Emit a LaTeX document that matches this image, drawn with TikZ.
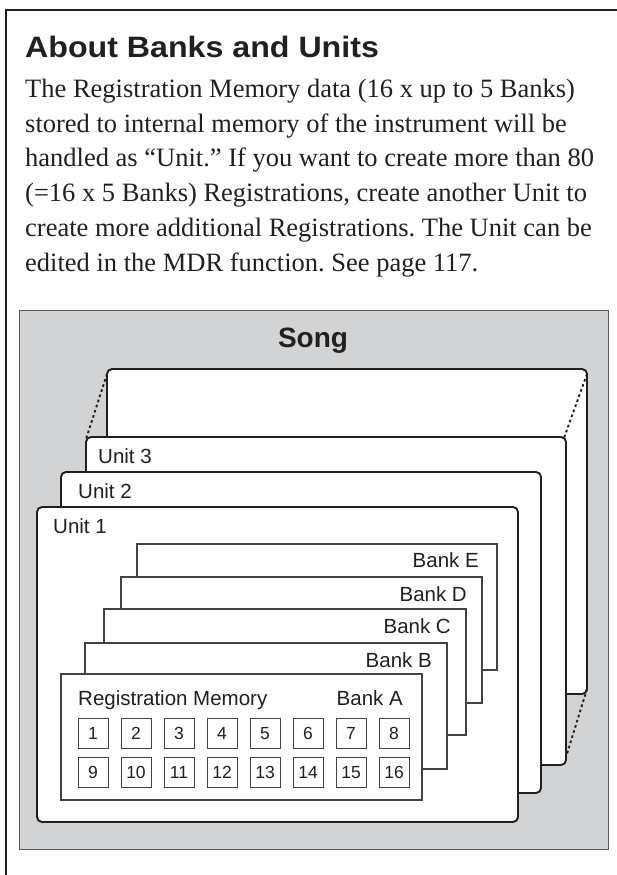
\documentclass[tikz,border=0pt]{standalone}
\usepackage{fontspec}
\setmainfont{Liberation Serif}
\setsansfont{Liberation Sans}
\newfontfamily\titlefont[FakeStretch=1.09]{Liberation Sans Bold}
\definecolor{panelgray}{RGB}{209,211,212}
\definecolor{ink}{RGB}{35,31,32}
\frenchspacing
\begin{document}
\begin{tikzpicture}[x=1pt,y=-1pt,
 unitbox/.style={draw=ink, line width=1.9pt, fill=white, rounded corners=5pt, inner sep=0, outer sep=0, anchor=north west},
 bankbox/.style={draw=ink!85, line width=1.1pt, fill=white, inner sep=0, outer sep=0, anchor=north west, minimum height=126},
 regbox/.style={draw=ink!85, line width=0.9pt, fill=white, minimum width=30, minimum height=30, inner sep=0, outer sep=0, anchor=north west, text height=12.5pt, text depth=0pt, font=\fontsize{17.5}{17.5}\sffamily, text=ink},
 lbl/.style={inner sep=0, font=\fontsize{20.5}{20.5}\sffamily, text=ink},
 bodyline/.style={inner sep=0, anchor=base west, font=\fontsize{26.5}{30}\rmfamily, text=ink},
 dots/.style={draw=ink, line width=1.9pt, dash pattern=on 2.6pt off 2.8pt}]
\useasboundingbox (0,0) rectangle (617,875);
% outer frame
\coordinate (fbl) at (6,875);
\coordinate (ftl) at (6,10);
\coordinate (ftr) at (617,10);
\draw[ink, line width=2pt] (fbl) -- (ftl) -- (ftr);
% heading and text
\node[anchor=base west, inner sep=0, font=\fontsize{29.5}{30}\titlefont, text=ink] (title) at (25,57) {About Banks and Units};
\node[bodyline] (t1) at (25,97.5) {The Registration Memory data (16 x up to 5 Banks)};
\node[bodyline] (t2) at (25,132.2) {stored to internal memory of the instrument will be};
\node[bodyline] (t3) at (25,166.9) {handled as “Unit.” If you want to create more than 80};
\node[bodyline] (t4) at (25,201.6) {(=16 x 5 Banks) Registrations, create another Unit to};
\node[bodyline] (t5) at (25,236.3) {create more additional Registrations. The Unit can be};
\node[bodyline] (t6) at (25,271) {edited in the MDR function. See page 117.};
% panel
\node[fill=panelgray, draw=ink!75, line width=0.8pt, minimum width=589, minimum height=539, anchor=north west, inner sep=0, outer sep=0] (panel) at (19,310) {};
\node[anchor=base, inner sep=0, font=\fontsize{28}{28}\bfseries\sffamily, text=ink] (song) at (313,347) {Song};
% units
\node[unitbox, minimum width=480, minimum height=325] (back) at (107,369) {};
\node[unitbox, minimum width=480, minimum height=328] (unit3) at (86,437) {};
\node[unitbox, minimum width=480, minimum height=321] (unit2) at (61,472) {};
\node[unitbox, minimum width=481, minimum height=315] (unit1) at (37,507) {};
\draw[dots] ([yshift=-5]back.north west) -- ([yshift=-2]unit3.north west);
\draw[dots] ([yshift=-5]back.north east) -- ([xshift=-2,yshift=-1]unit3.north east);
\draw[dots] ([yshift=5]back.south east) -- ([yshift=8]unit3.south east);
\node[lbl, anchor=base west] (u3) at (98,463) {Unit 3};
\node[lbl, anchor=base west] (u2) at (78,498) {Unit 2};
\node[lbl, anchor=base west] (u1) at (53,533) {Unit 1};
% banks
\node[bankbox, minimum width=360] (bankE) at (137,544) {};
\node[lbl, anchor=base east] (lE) at ([xshift=-18,yshift=-23]bankE.north east) {Bank E};
\node[bankbox, minimum width=361] (bankD) at (121,577) {};
\node[lbl, anchor=base east] (lD) at ([xshift=-15,yshift=-24]bankD.north east) {Bank D};
\node[bankbox, minimum width=362] (bankC) at (104,609) {};
\node[lbl, anchor=base east] (lC) at ([xshift=-15,yshift=-24]bankC.north east) {Bank C};
\node[bankbox, minimum width=362] (bankB) at (85,643) {};
\node[lbl, anchor=base east] (lB) at ([xshift=-15,yshift=-24]bankB.north east) {Bank B};
\node[bankbox, minimum width=361] (bankA) at (61,674) {};
\node[lbl, anchor=base east] (lA) at ([xshift=-19,yshift=-31]bankA.north east) {Bank A};
\node[lbl, anchor=base west] (rm) at (78,705) {Registration Memory};
% registration boxes
\foreach \i in {1,...,8} {
  \pgfmathtruncatemacro{\j}{\i+8}
  \node[regbox] (r\i) at ({78+43*(\i-1)},718) {\i};
  \node[regbox] (r\j) at ({78+43*(\i-1)},757) {\j};
}
\end{tikzpicture}
\end{document}
